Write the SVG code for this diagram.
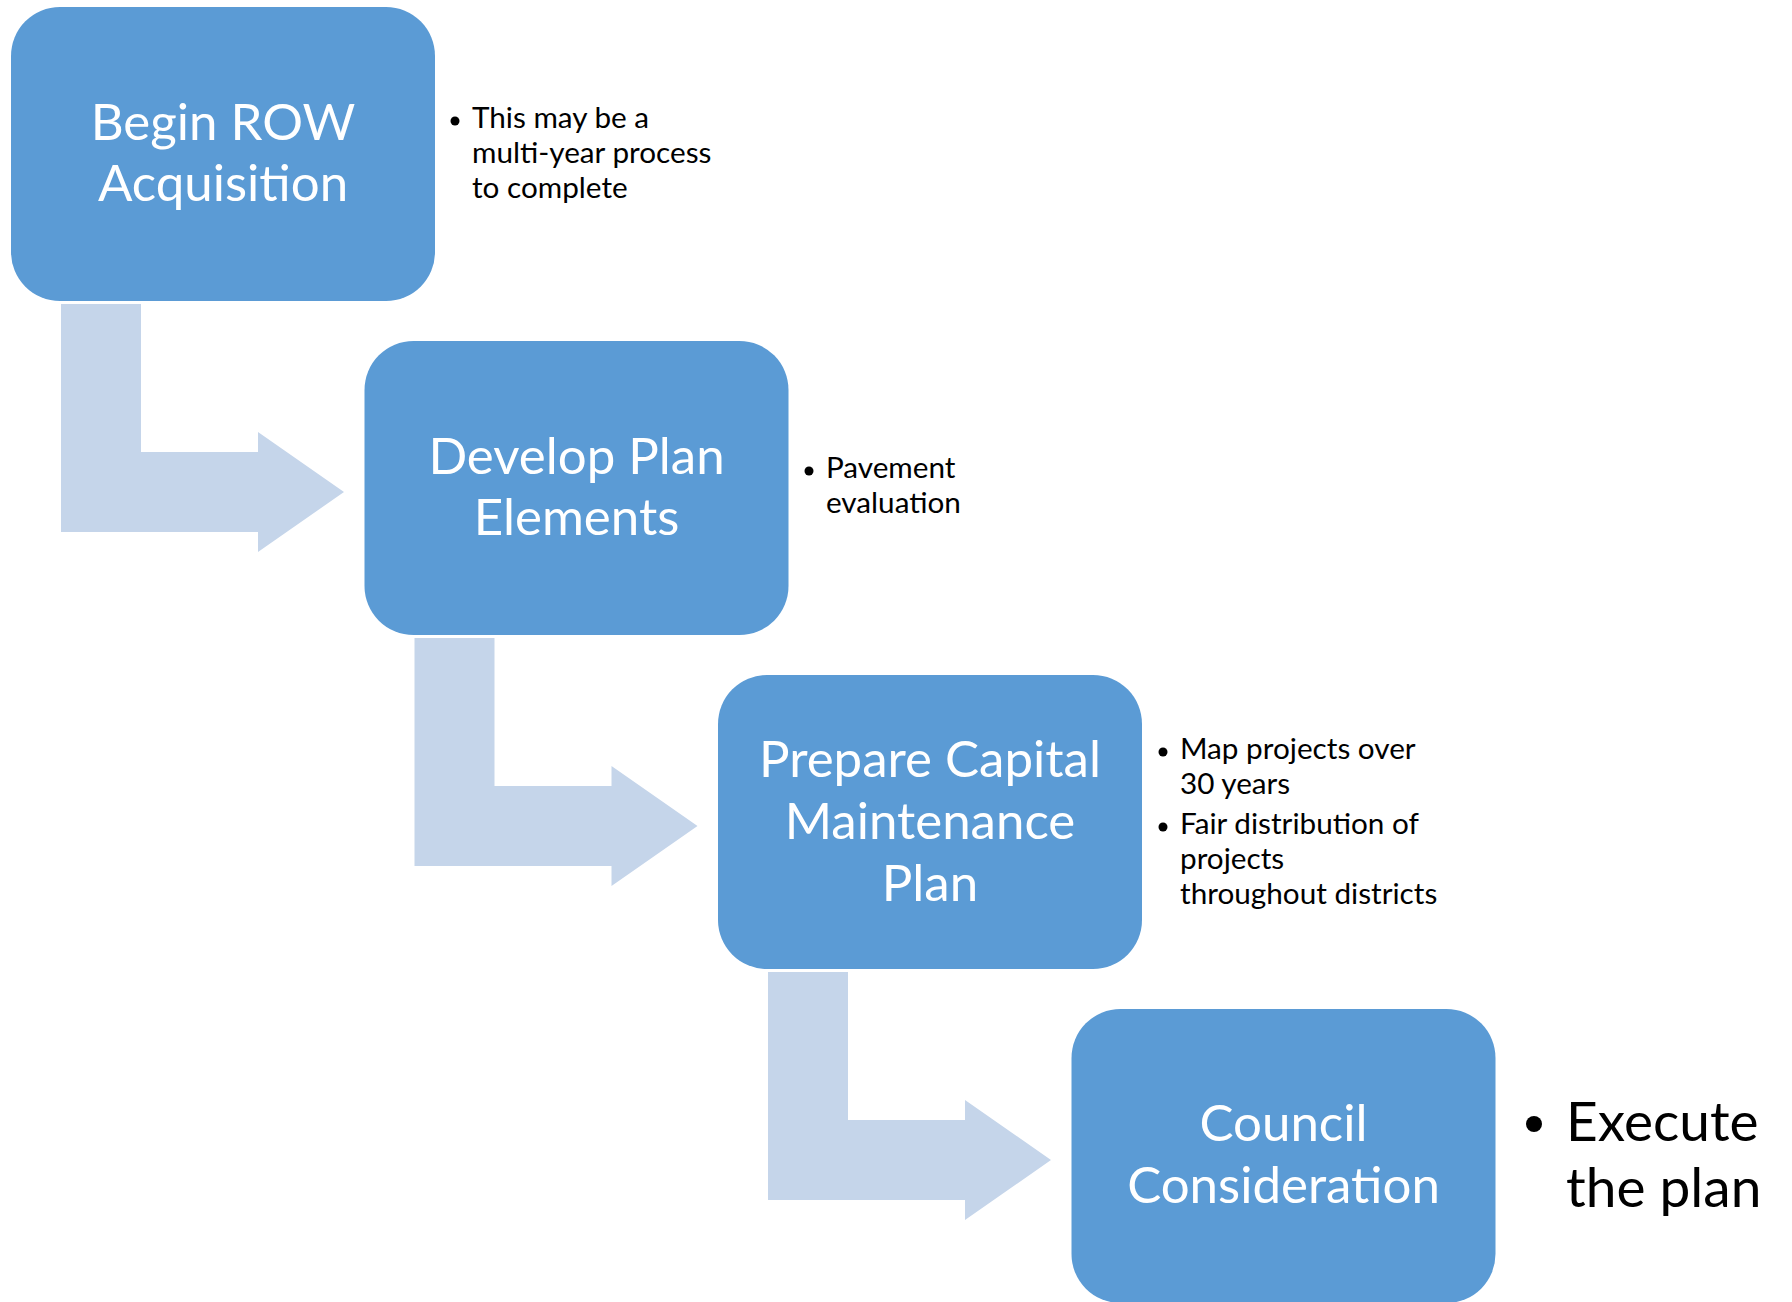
<svg xmlns="http://www.w3.org/2000/svg" width="1792" height="1302" viewBox="0 0 1792 1302">
<style>
.box{fill:#5B9BD5;}
.arrow{fill:#C5D5EA;}
.nt{font-family:Lato,"Liberation Sans",sans-serif;font-size:51px;fill:#FFFFFF;text-anchor:middle;}
.bt{font-family:Lato,"Liberation Sans",sans-serif;font-size:29.7px;fill:#000000;}
.bl{font-family:Lato,"Liberation Sans",sans-serif;font-size:55px;fill:#000000;}
.dot{fill:#000000;}
</style>
<rect width="1792" height="1302" fill="#FFFFFF"/>
<g id="connectors">
<path class="arrow" d="M61 304 H141 V452 H258 V432 L344 492 L258 552 V532 H61 Z"/>
<path class="arrow" d="M61 304 H141 V452 H258 V432 L344 492 L258 552 V532 H61 Z" transform="translate(353.5 334)"/>
<path class="arrow" d="M61 304 H141 V452 H258 V432 L344 492 L258 552 V532 H61 Z" transform="translate(707 668)"/>
</g>
<g id="node1">
<rect class="box" x="11" y="7" width="424" height="294" rx="49" ry="49"/>
<text class="nt"><tspan x="223" y="140">Begin ROW</tspan><tspan x="223" y="201">Acquisition</tspan></text>
</g>
<g id="note1">
<circle class="dot" cx="455" cy="121" r="4.5"/>
<text class="bt"><tspan x="472" y="128">This may be a</tspan><tspan x="472" y="163">multi-year process</tspan><tspan x="472" y="198">to complete</tspan></text>
</g>
<g id="node2">
<rect class="box" x="364.5" y="341" width="424" height="294" rx="49" ry="49"/>
<text class="nt"><tspan x="576.5" y="474">Develop Plan</tspan><tspan x="576.5" y="535">Elements</tspan></text>
</g>
<g id="note2">
<circle class="dot" cx="809" cy="471" r="4.5"/>
<text class="bt"><tspan x="826" y="478">Pavement</tspan><tspan x="826" y="513">evaluation</tspan></text>
</g>
<g id="node3">
<rect class="box" x="718" y="675" width="424" height="294" rx="49" ry="49"/>
<text class="nt"><tspan x="930" y="777">Prepare Capital</tspan><tspan x="930" y="839">Maintenance</tspan><tspan x="930" y="901">Plan</tspan></text>
</g>
<g id="note3">
<circle class="dot" cx="1163" cy="752" r="4.5"/>
<circle class="dot" cx="1163" cy="827" r="4.5"/>
<text class="bt"><tspan x="1180" y="759">Map projects over</tspan><tspan x="1180" y="794">30 years</tspan><tspan x="1180" y="834">Fair distribution of</tspan><tspan x="1180" y="869">projects</tspan><tspan x="1180" y="904">throughout districts</tspan></text>
</g>
<g id="node4">
<rect class="box" x="1071.5" y="1009" width="424" height="294" rx="49" ry="49"/>
<text class="nt"><tspan x="1283.5" y="1141">Council</tspan><tspan x="1283.5" y="1203">Consideration</tspan></text>
</g>
<g id="note4">
<circle class="dot" cx="1534" cy="1124" r="8"/>
<text class="bl"><tspan x="1566" y="1141">Execute</tspan><tspan x="1566" y="1207">the plan</tspan></text>
</g>
</svg>
